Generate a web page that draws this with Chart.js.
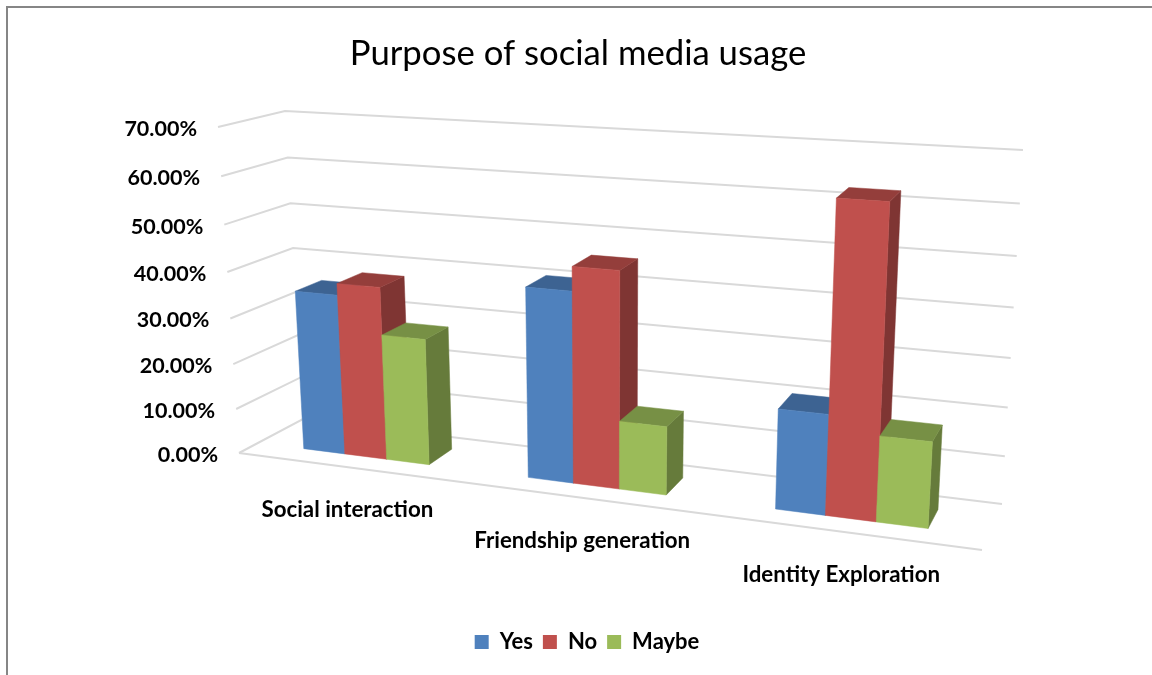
<!DOCTYPE html>
<html>
<head>
<meta charset="utf-8">
<title>Purpose of social media usage</title>
<script src="https://cdn.jsdelivr.net/npm/chart.js@4"></script>
<style>
  html, body { margin: 0; padding: 0; background: #fff; overflow: hidden; }
  #frame { position: absolute; left: 6px; top: 6px; right: 0; bottom: 0; border-top: 2px solid #868686; border-left: 2px solid #868686; }
  #myChart { position: absolute; left: 0; top: 0; }
</style>
</head>
<body>
<div id="frame"></div>
<canvas id="myChart" width="1152" height="675"></canvas>
<script>
const categories = ['Social interaction', 'Friendship generation', 'Identity Exploration'];
const yesValues = [35.2, 40.5, 20.7];
const noValues = [37.7, 45.5, 62.5];
const maybeValues = [27.5, 14.5, 17.5];

const fontName = 'Lato, "Open Sans", sans-serif';

// corners of the 3d box on screen: [x, y] for front/back, left/right, floor/top
const frontLeftFloor = [239, 453], frontLeftTop = [218, 127];
const backLeftFloor = [303, 419], backLeftTop = [285, 111];
const backRightFloor = [1002, 504], backRightTop = [1023, 150];
const frontRightFloor = [982, 550], frontRightTop = [1004, 175];

// perspective shortening along the category and value axes
const widthBend = 0.863;
const heightBend = 0.936;
// depth of the bars inside the box
const barFront = 0.3;
const barBack = 0.72;

function lerp(a, b, t) {
  return [a[0] + (b[0] - a[0]) * t, a[1] + (b[1] - a[1]) * t];
}

function project(u, v, h) {
  const su = u * widthBend / (1 + u * (widthBend - 1));
  const th = h * heightBend / (1 + h * (heightBend - 1));
  const frontFloor = lerp(frontLeftFloor, frontRightFloor, su);
  const backFloor = lerp(backLeftFloor, backRightFloor, su);
  const frontTop = lerp(frontLeftTop, frontRightTop, su);
  const backTop = lerp(backLeftTop, backRightTop, su);
  return lerp(lerp(frontFloor, backFloor, v), lerp(frontTop, backTop, v), th);
}

function shade(hex, k) {
  const n = parseInt(hex.slice(1), 16);
  const r = Math.round((n >> 16) * k);
  const g = Math.round(((n >> 8) & 255) * k);
  const b = Math.round((n & 255) * k);
  return `rgb(${r},${g},${b})`;
}

function face(ctx, points, color) {
  ctx.fillStyle = color;
  ctx.strokeStyle = color;
  ctx.lineWidth = 0.5;
  ctx.beginPath();
  points.forEach((p, i) => {
    if (i == 0) ctx.moveTo(p[0], p[1]);
    else ctx.lineTo(p[0], p[1]);
  });
  ctx.closePath();
  ctx.fill();
  ctx.stroke();
}

const box3d = {
  id: 'box3d',
  afterLayout(chart) {
    // legend sits a little right of the title centre
    chart.legend.left += 9;
    chart.legend.right += 9;
  },
  beforeDatasetsDraw(chart) {
    const ctx = chart.ctx;
    const area = chart.chartArea;
    const yScale = chart.scales.y;
    const toU = px => (px - area.left) / (area.right - area.left);
    const toH = py => (area.bottom - py) / (area.bottom - area.top);

    // gridlines and value labels
    ctx.save();
    ctx.lineWidth = 2;
    ctx.strokeStyle = '#d9d9d9';
    ctx.font = 'bold 21.5px ' + fontName;
    ctx.textAlign = 'right';
    ctx.textBaseline = 'middle';
    yScale.ticks.forEach(tick => {
      const h = toH(yScale.getPixelForValue(tick.value));
      const a = project(0, 0, h);
      const b = project(0, 1, h);
      const c = project(1, 1, h);
      ctx.beginPath();
      ctx.moveTo(a[0], a[1]);
      ctx.lineTo(b[0], b[1]);
      ctx.lineTo(c[0], c[1]);
      ctx.stroke();
      ctx.fillStyle = '#000';
      ctx.fillText(tick.label, a[0] - 21, a[1] + 2);
    });
    const f0 = project(0, 0, 0);
    const f1 = project(1, 0, 0);
    ctx.beginPath();
    ctx.moveTo(f0[0], f0[1]);
    ctx.lineTo(f1[0], f1[1]);
    ctx.stroke();

    // category labels under the front edge
    ctx.textAlign = 'center';
    ctx.font = 'bold 22.3px ' + fontName;
    ctx.fillStyle = '#000';
    categories.forEach((name, i) => {
      const p = project(toU(chart.scales.x.getPixelForValue(i)), 0, 0);
      ctx.fillText(name, p[0] - 1, p[1] + 43);
    });
    ctx.restore();

    // bars, left to right so that the nearer faces cover the sides
    categories.forEach((name, i) => {
      chart.data.datasets.forEach((ds, d) => {
        const el = chart.getDatasetMeta(d).data[i];
        const u0 = toU(el.x - el.width / 2);
        const u1 = toU(el.x + el.width / 2);
        const h0 = toH(el.base);
        const h1 = toH(el.y);
        const color = ds.backgroundColor;
        face(ctx, [project(u1, barFront, h0), project(u1, barBack, h0), project(u1, barBack, h1), project(u1, barFront, h1)], shade(color, 0.66));
        face(ctx, [project(u0, barFront, h1), project(u1, barFront, h1), project(u1, barBack, h1), project(u0, barBack, h1)], shade(color, 0.77));
        face(ctx, [project(u0, barFront, h0), project(u1, barFront, h0), project(u1, barFront, h1), project(u0, barFront, h1)], color);
      });
    });
    return false;
  }
};

const ctx = document.getElementById('myChart');

new Chart(ctx, {
  type: 'bar',
  plugins: [box3d],
  data: {
    labels: categories,
    datasets: [
      { label: 'Yes', data: yesValues, backgroundColor: '#4F81BD', borderWidth: 0 },
      { label: 'No', data: noValues, backgroundColor: '#C0504D', borderWidth: 0 },
      { label: 'Maybe', data: maybeValues, backgroundColor: '#9BBB59', borderWidth: 0 }
    ]
  },
  options: {
    responsive: false,
    animation: false,
    layout: { padding: { left: 4, bottom: 12 } },
    datasets: { bar: { categoryPercentage: 0.57, barPercentage: 1 } },
    scales: {
      x: { display: false },
      y: {
        display: false,
        min: 0,
        max: 70,
        ticks: { stepSize: 10, callback: value => value.toFixed(2) + '%' }
      }
    },
    plugins: {
      tooltip: { enabled: false },
      title: {
        display: true,
        text: 'Purpose of social media usage',
        color: '#000',
        padding: { top: 33, bottom: 10 },
        font: { family: fontName, size: 34.7, weight: 'normal' }
      },
      legend: {
        position: 'bottom',
        labels: {
          boxWidth: 14,
          boxHeight: 14,
          padding: 10,
          color: '#000',
          font: { family: fontName, size: 22, weight: 'bold' }
        }
      }
    }
  }
});
</script>
</body>
</html>
